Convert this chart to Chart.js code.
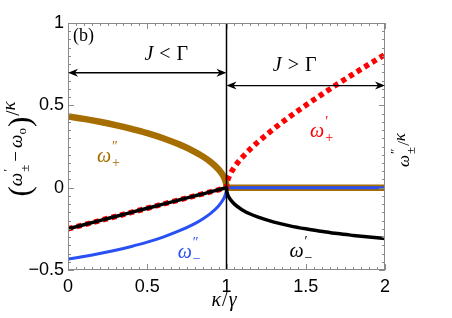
<!DOCTYPE html>
<html>
<head>
<meta charset="utf-8">
<script src="https://cdn.jsdelivr.net/npm/chart.js@4/dist/chart.umd.min.js"></script>
<style>html,body{margin:0;background:#fff}</style>
</head>
<body>
<canvas id="c" width="452" height="318"></canvas>
<script>
// kappa/gamma below the exceptional point (J < Gamma)
const kappaBelow = [0, 0.1, 0.2, 0.3, 0.4, 0.5, 0.6, 0.7, 0.8, 0.85, 0.9, 0.95, 0.98, 0.99, 0.995, 0.999, 1];
const realBelow = [-0.25, -0.225, -0.2, -0.175, -0.15, -0.125, -0.1, -0.075, -0.05, -0.038, -0.025, -0.013, -0.005, -0.003, -0.001, 0, 0];
const imagPlusBelow = [0.433, 0.418, 0.4, 0.38, 0.357, 0.331, 0.3, 0.263, 0.218, 0.19, 0.156, 0.111, 0.071, 0.05, 0.035, 0.016, 0];
const imagMinusBelow = [-0.433, -0.418, -0.4, -0.38, -0.357, -0.331, -0.3, -0.263, -0.218, -0.19, -0.156, -0.111, -0.071, -0.05, -0.035, -0.016, 0];

// above it (J > Gamma)
const kappaAbove = [1.001, 1.005, 1.01, 1.02, 1.05, 1.1, 1.15, 1.2, 1.3, 1.4, 1.5, 1.6, 1.7, 1.8, 1.9, 2];
const realPlusAbove = [0.016, 0.037, 0.053, 0.076, 0.125, 0.185, 0.235, 0.279, 0.359, 0.432, 0.5, 0.565, 0.629, 0.69, 0.75, 0.809];
const realMinusAbove = [-0.016, -0.034, -0.048, -0.066, -0.1, -0.135, -0.16, -0.179, -0.209, -0.232, -0.25, -0.265, -0.279, -0.29, -0.3, -0.309];
const kappaFlat = [1.5, 2];
const imagAbove = [0, 0];

const xTicks = [0, 0.5, 1, 1.5, 2];
const yTicks = [-0.5, 0, 0.5, 1];

const BROWN = "rgb(166, 110, 0)";
const BLUE = "rgb(40, 80, 245)";
const RED = "rgb(255, 0, 0)";
const FRAME = "#8a8a8a";

function pts(xs, ys) {
  return xs.map((x, i) => ({ x: x, y: ys[i] }));
}

const SERIF = "'Liberation Serif', 'DejaVu Serif', serif";

// draws a row of text pieces; stacked pieces have up/down parts
function mathText(ctx, parts, cx, cy, angle) {
  ctx.save();
  let total = 0;
  const widths = parts.map(p => {
    ctx.font = p.f;
    let w = p.t !== undefined ? ctx.measureText(p.t).width
      : Math.max(ctx.measureText(p.up).width, ctx.measureText(p.down).width);
    w += p.gap || 0;
    total += w;
    return w;
  });
  ctx.translate(cx, cy);
  ctx.rotate(angle || 0);
  ctx.textBaseline = "alphabetic";
  ctx.textAlign = "left";
  let x = -total / 2;
  parts.forEach((p, i) => {
    ctx.font = p.f;
    ctx.fillStyle = p.c || "#000";
    if (p.t !== undefined) {
      ctx.fillText(p.t, x, p.dy || 0);
    } else {
      ctx.fillText(p.up, x, p.upY);
      ctx.fillText(p.down, x, p.downY);
    }
    x += widths[i];
  });
  ctx.restore();
}

function arrowHead(ctx, x, y, dir) {
  ctx.beginPath();
  ctx.moveTo(x, y);
  ctx.lineTo(x - dir * 10, y - 4);
  ctx.lineTo(x - dir * 7, y);
  ctx.lineTo(x - dir * 10, y + 4);
  ctx.closePath();
  ctx.fill();
}

function doubleArrow(ctx, x1, x2, y) {
  ctx.strokeStyle = "#000";
  ctx.fillStyle = "#000";
  ctx.lineWidth = 1.3;
  ctx.beginPath();
  ctx.moveTo(x1 + 4, y);
  ctx.lineTo(x2 - 4, y);
  ctx.stroke();
  arrowHead(ctx, x1, y, -1);
  arrowHead(ctx, x2, y, 1);
}

const decor = {
  id: "decor",
  afterDatasetsDraw(chart) {
    const { ctx, chartArea: a, scales: { x, y } } = chart;
    ctx.save();

    // threshold line
    ctx.strokeStyle = "#000";
    ctx.lineWidth = 1.5;
    ctx.beginPath();
    ctx.moveTo(x.getPixelForValue(1), a.top);
    ctx.lineTo(x.getPixelForValue(1), a.bottom);
    ctx.stroke();

    // frame and inward ticks
    ctx.strokeStyle = FRAME;
    ctx.lineWidth = 1;
    ctx.strokeRect(a.left + 0.5, a.top + 0.5, a.right - a.left - 1, a.bottom - a.top - 1);
    ctx.beginPath();
    for (let i = 0; i <= 40; i++) {
      const px = Math.round(x.getPixelForValue(i * 0.05)) + 0.5;
      const len = i % 10 === 0 ? 6 : 3;
      ctx.moveTo(px, a.bottom);
      ctx.lineTo(px, a.bottom - len);
      ctx.moveTo(px, a.top);
      ctx.lineTo(px, a.top + len);
    }
    for (let i = 0; i <= 30; i++) {
      const py = Math.round(y.getPixelForValue(-0.5 + i * 0.05)) + 0.5;
      const len = i % 10 === 0 ? 6 : 3;
      ctx.moveTo(a.left, py);
      ctx.lineTo(a.left + len, py);
      ctx.moveTo(a.right, py);
      ctx.lineTo(a.right - len, py);
    }
    ctx.stroke();

    // regime arrows
    doubleArrow(ctx, x.getPixelForValue(0), x.getPixelForValue(1), y.getPixelForValue(0.698));
    doubleArrow(ctx, x.getPixelForValue(1), x.getPixelForValue(2), y.getPixelForValue(0.62));

    const it19 = "italic 20px " + SERIF;
    const up19 = "20px " + SERIF;
    mathText(ctx, [
      { t: "J", f: it19, gap: 6 },
      { t: "<", f: up19, gap: 6 },
      { t: "Γ", f: up19 }
    ], x.getPixelForValue(0.62), y.getPixelForValue(0.775));
    mathText(ctx, [
      { t: "J", f: it19, gap: 6 },
      { t: ">", f: up19, gap: 6 },
      { t: "Γ", f: up19 }
    ], x.getPixelForValue(1.43), y.getPixelForValue(0.708));

    ctx.font = "18px " + SERIF;
    ctx.fillStyle = "#000";
    ctx.textAlign = "left";
    ctx.textBaseline = "alphabetic";
    ctx.fillText("(b)", a.left + 5, a.top + 18);

    // curve labels
    const it20 = "italic 20px " + SERIF;
    const sm = "14px " + SERIF;
    const lab = (sup, sub, col, kx, vy) => mathText(ctx, [
      { t: "ω", f: it20, c: col, gap: 1 },
      { up: sup, down: sub, f: sm, c: col, upY: -11, downY: 5 }
    ], x.getPixelForValue(kx), y.getPixelForValue(vy));
    lab("″", "+", BROWN, 0.255, 0.155);
    lab("″", "−", BLUE, 0.765, -0.43);
    lab("′", "+", RED, 1.6, 0.31);
    lab("′", "−", "#000", 1.47, -0.42);

    // axis titles
    const it20b = "italic 20px " + SERIF;
    mathText(ctx, [
      { t: "κ", f: it20b, gap: 1 },
      { t: "/", f: "20px " + SERIF, gap: 1 },
      { t: "γ", f: it20b }
    ], 224, 306);

    const pf = "31px " + SERIF;
    const it18 = "italic 19px " + SERIF;
    const s13 = "13px " + SERIF;
    mathText(ctx, [
      { t: "(", f: pf, dy: 8 },
      { t: "ω", f: it18, gap: 1 },
      { up: "′", down: "±", f: s13, upY: -10, downY: 7, gap: 3 },
      { t: "−", f: "19px " + SERIF, gap: 3 },
      { t: "ω", f: it18 },
      { t: "o", f: s13, dy: 4, gap: 1 },
      { t: ")", f: pf, dy: 8, gap: 1 },
      { t: "/", f: "19px " + SERIF, dy: -3 },
      { t: "κ", f: it18, dy: -7 }
    ], 22, 149, -Math.PI / 2);

    mathText(ctx, [
      { t: "ω", f: "italic 17px " + SERIF, gap: 1 },
      { up: "″", down: "±", f: s13, upY: -10, downY: 6, gap: 1 },
      { t: "/", f: "17px " + SERIF },
      { t: "κ", f: "italic 17px " + SERIF, dy: -4 }
    ], 409, 150, -Math.PI / 2);

    ctx.restore();
  }
};

const line = (data, color, width, dash, order) => ({
  data: data,
  borderColor: color,
  borderWidth: width,
  borderDash: dash || [],
  borderCapStyle: "butt",
  pointRadius: 0,
  fill: false,
  cubicInterpolationMode: "monotone",
  order: order
});

new Chart(document.getElementById("c"), {
  type: "line",
  data: {
    datasets: [
      line(pts(kappaBelow, imagPlusBelow).concat(pts(kappaFlat, imagAbove)), BROWN, 6.5, null, 4),
      line(pts(kappaBelow, imagMinusBelow).concat(pts(kappaFlat, imagAbove)), BLUE, 3, null, 3),
      line(pts(kappaBelow, realBelow).concat(pts(kappaAbove, realPlusAbove)), RED, 5.5, [5, 4], 2),
      line(pts(kappaBelow, realBelow).concat(pts(kappaAbove, realMinusAbove)), "#000", 3.5, null, 1)
    ]
  },
  options: {
    responsive: false,
    animation: false,
    layout: { padding: { top: 23, right: 67, left: 0, bottom: 0 } },
    plugins: { legend: { display: false }, tooltip: { enabled: false } },
    scales: {
      x: {
        type: "linear",
        min: 0,
        max: 2,
        grid: { display: false, drawTicks: false },
        border: { display: false },
        afterFit: s => { s.height = 48; },
        afterBuildTicks: s => { s.ticks = xTicks.map(v => ({ value: v })); },
        ticks: {
          padding: 6,
          color: "#000",
          font: { family: "'Liberation Sans', Arial, sans-serif", size: 18 },
          callback: v => String(v)
        }
      },
      y: {
        type: "linear",
        min: -0.5,
        max: 1,
        grid: { display: false, drawTicks: false },
        border: { display: false },
        afterFit: s => { s.width = 68; },
        afterBuildTicks: s => { s.ticks = yTicks.map(v => ({ value: v })); },
        ticks: {
          padding: 4,
          color: "#000",
          font: { family: "'Liberation Sans', Arial, sans-serif", size: 18 },
          callback: v => (v < 0 ? "−" + Math.abs(v) : String(v))
        }
      }
    }
  },
  plugins: [decor]
});
</script>
</body>
</html>
